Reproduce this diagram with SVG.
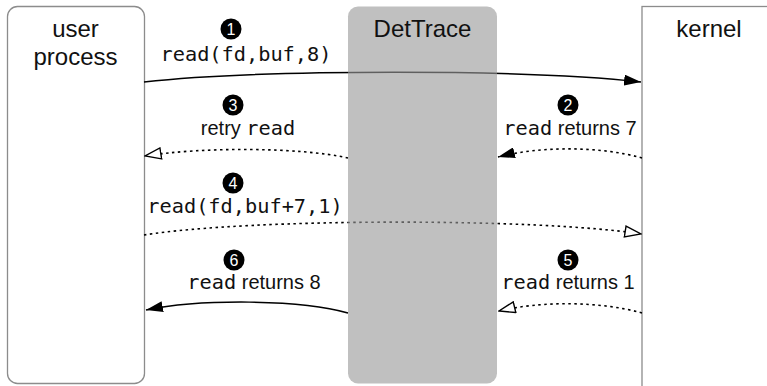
<svg xmlns="http://www.w3.org/2000/svg" width="767" height="386" viewBox="0 0 767 386">
  <style>
    .box { fill: #ffffff; stroke: #8c8c8c; stroke-width: 1.3; }
    .title { font-family: "Liberation Sans", Arial, sans-serif; font-size: 24px; fill: #111; text-anchor: middle; }
    .lbl { font-family: "Liberation Sans", Arial, sans-serif; font-size: 20px; fill: #111; text-anchor: middle; }
    .mono { font-family: "DejaVu Sans Mono", "Liberation Mono", monospace; font-size: 20.3px; }
    .dot { fill: #000; }
    .num { font-family: "Liberation Sans", Arial, sans-serif; font-size: 16px; fill: #ffffff; text-anchor: middle; }
    .solid { fill: none; stroke: #000; stroke-width: 1.5; }
    .dotted { fill: none; stroke: #000; stroke-width: 1.6; stroke-dasharray: 2.5 3.5; }
  </style>
  <defs>
    <marker id="head-filled" viewBox="0 0 17 11" refX="17" refY="5.5" markerWidth="17" markerHeight="11" markerUnits="userSpaceOnUse" orient="auto">
      <path d="M0,0 L17,5.5 L0,11 z" fill="#000"/>
    </marker>
    <marker id="head-open" viewBox="-1 -1 18 13" refX="16" refY="5.5" markerWidth="18" markerHeight="13" markerUnits="userSpaceOnUse" orient="auto">
      <path d="M0,0 L16,5.5 L0,11 z" fill="#fff" stroke="#000" stroke-width="1.4"/>
    </marker>
  </defs>

  <!-- endpoints -->
  <g id="user-process">
    <rect class="box" x="7.5" y="6.5" width="137" height="377" rx="10"/>
    <text class="title" x="75.5" y="37">user</text>
    <text class="title" x="75.5" y="65">process</text>
  </g>
  <g id="kernel">
    <rect class="box" x="642" y="6.5" width="200" height="400"/>
    <text class="title" x="709" y="37">kernel</text>
  </g>

  <!-- message flows -->
  <g id="connectors">
    <path class="solid" d="M144,82 C260,69 530,69 641,82" marker-end="url(#head-filled)"/>
    <path class="dotted" d="M642,158 C600,146 540,146 498,157" marker-end="url(#head-filled)"/>
    <path class="dotted" d="M348,158 C300,147 200,147 145,156" marker-end="url(#head-open)"/>
    <path class="dotted" d="M144,235 C250,218 540,218 641,234" marker-end="url(#head-open)"/>
    <path class="dotted" d="M642,313 C600,301 540,301 499,311" marker-end="url(#head-open)"/>
    <path class="solid" d="M348,313 C300,299 200,299 146,310" marker-end="url(#head-filled)"/>
  </g>

  <!-- interposition layer, translucent over the traffic passing through it -->
  <g id="dettrace">
    <rect x="348" y="6.5" width="149" height="377" rx="10" fill="#999999" fill-opacity="0.62"/>
    <text class="title" x="422.5" y="37">DetTrace</text>
  </g>

  <!-- step labels -->
  <g id="step-1">
    <circle class="dot" cx="231" cy="29" r="10.5"/>
    <text class="num" x="231" y="34.8">1</text>
    <text class="lbl mono" x="246" y="61">read(fd,buf,8)</text>
  </g>
  <g id="step-2">
    <circle class="dot" cx="568" cy="105" r="10.5"/>
    <text class="num" x="568" y="110.8">2</text>
    <text class="lbl" x="570" y="135"><tspan class="mono">read</tspan> returns 7</text>
  </g>
  <g id="step-3">
    <circle class="dot" cx="233" cy="105" r="10.5"/>
    <text class="num" x="233" y="110.8">3</text>
    <text class="lbl" x="248" y="135">retry <tspan class="mono">read</tspan></text>
  </g>
  <g id="step-4">
    <circle class="dot" cx="233" cy="183" r="10.5"/>
    <text class="num" x="233" y="188.8">4</text>
    <text class="lbl mono" x="245" y="213">read(fd,buf+7,1)</text>
  </g>
  <g id="step-5">
    <circle class="dot" cx="568" cy="260" r="10.5"/>
    <text class="num" x="568" y="265.8">5</text>
    <text class="lbl" x="568" y="289"><tspan class="mono">read</tspan> returns 1</text>
  </g>
  <g id="step-6">
    <circle class="dot" cx="234" cy="260" r="10.5"/>
    <text class="num" x="234" y="265.8">6</text>
    <text class="lbl" x="254" y="289"><tspan class="mono">read</tspan> returns 8</text>
  </g>
</svg>
